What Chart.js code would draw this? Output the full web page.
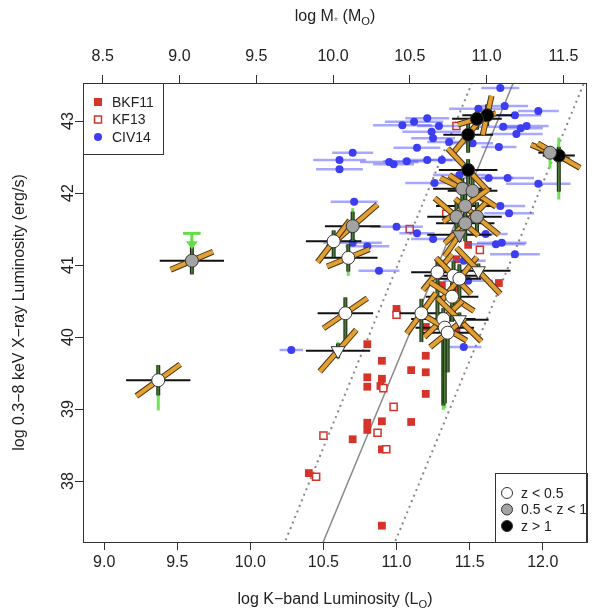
<!DOCTYPE html>
<html lang="en">
<head>
    <meta charset="UTF-8">
    <title>X-ray vs K-band luminosity</title>
    <style>
        html, body {
            margin: 0;
            padding: 0;
            background: #fff;
        }
        canvas {
            display: block;
        }
    </style>
    <script src="https://cdn.jsdelivr.net/npm/chart.js@4"></script>
</head>
<body>
    <canvas id="lumChart" width="596" height="616"></canvas>

    <script>
        // tick values
        const kTicks = [9.0, 9.5, 10.0, 10.5, 11.0, 11.5, 12.0];
        const massTicks = [8.5, 9.0, 9.5, 10.0, 10.5, 11.0, 11.5];
        const xrayTicks = [38, 39, 40, 41, 42, 43];

        // BKF11 (filled squares)
        const bkfK = [10.80, 10.90, 10.80, 10.80, 10.90, 10.89, 11.10, 11.20, 11.20, 11.20, 10.80, 10.80, 10.90,
                      11.10, 10.70, 10.90, 10.40, 10.90, 11.70, 11.00, 11.49, 11.41, 11.41, 11.31, 11.20, 11.41];
        const bkfX = [39.90, 39.67, 39.44, 39.31, 39.42, 39.32, 39.54, 39.74, 39.51, 39.21, 38.81, 38.71, 38.83,
                      38.82, 38.58, 38.44, 38.11, 37.38, 40.75, 40.39, 41.28, 41.08, 40.68, 40.72, 40.14, 40.08];

        // KF13 (open squares)
        const kfK = [10.91, 10.98, 10.87, 10.93, 10.50, 10.45, 11.00, 11.09, 11.57, 11.41, 11.34];
        const kfX = [39.29, 39.03, 38.67, 38.44, 38.63, 38.06, 40.31, 41.50, 41.21, 42.93, 41.71];

        // CIV14 (blue points with K-band errors)
        const civK = [11.71, 11.74, 11.56, 11.81, 11.97, 11.21, 11.12, 11.04, 11.29, 11.73, 11.85, 11.89, 11.82,
                      11.24, 11.25, 11.36, 11.52, 11.14, 11.70, 10.70, 10.61, 10.61, 10.95, 10.98, 11.07, 11.21,
                      11.31, 11.43, 11.63, 11.76, 11.26, 11.97, 10.71, 11.71, 11.77, 11.00, 11.14, 11.25, 11.61,
                      11.68, 11.72, 11.81, 11.46, 10.88, 11.49, 11.46, 10.70, 10.80, 10.28];
        const civX = [43.46, 43.21, 43.17, 43.08, 43.14, 43.04, 42.99, 42.94, 42.93, 42.92, 42.90, 42.93, 42.82,
                      42.85, 42.76, 42.71, 42.69, 42.63, 42.64, 42.56, 42.46, 42.33, 42.43, 42.40, 42.44, 42.46,
                      42.46, 42.25, 42.21, 42.21, 42.14, 42.13, 41.88, 41.82, 41.72, 41.53, 41.44, 41.36, 41.43,
                      41.29, 41.31, 41.15, 41.06, 40.92, 40.78, 39.86, 41.31, 41.26, 39.82];
        const civErr = [0.13, 0.16, 0.20, 0.18, 0.14, 0.15, 0.20, 0.20, 0.15, 0.18, 0.15, 0.15, 0.18,
                        0.20, 0.15, 0.15, 0.14, 0.16, 0.12, 0.14, 0.18, 0.16, 0.20, 0.14, 0.16, 0.17,
                        0.13, 0.18, 0.17, 0.18, 0.20, 0.22, 0.16, 0.17, 0.17, 0.18, 0.12, 0.15, 0.15,
                        0.20, 0.17, 0.17, 0.15, 0.14, 0.17, 0.12, 0.20, 0.15, 0.08];

        // main sample: z class 0 = z<0.5, 1 = 0.5<z<1, 2 = z>1 ; lim = upper limit (triangle)
        const srcK   = [9.37, 9.60, 10.70, 10.57, 10.67, 10.65, 10.60, 12.05, 12.11, 11.62, 11.55, 11.49, 11.49, 11.45, 11.52,
                        11.47, 11.41, 11.55, 11.47, 11.43, 11.28, 11.39, 11.43, 11.56, 11.38, 11.17, 11.32, 11.43, 11.33, 11.35];
        const srcX   = [39.40, 41.06, 41.54, 41.33, 41.10, 40.33, 39.81, 42.56, 42.52, 43.08, 43.03, 42.81, 42.32, 42.06, 42.03,
                        41.82, 41.67, 41.67, 41.58, 41.42, 40.90, 40.85, 40.81, 40.92, 40.56, 40.33, 40.25, 40.24, 40.13, 40.06];
        const srcZ   = [0, 1, 1, 0, 0, 0, 0, 1, 2, 2, 2, 2, 2, 1, 1,
                        1, 1, 1, 1, 1, 0, 0, 0, 0, 0, 0, 0, 0, 0, 0];
        const srcLim = [0, 0, 0, 0, 0, 0, 1, 0, 0, 0, 0, 0, 0, 0, 0,
                        0, 0, 0, 0, 1, 0, 0, 0, 1, 0, 0, 0, 1, 0, 0];
        const srcErrK = [0.22, 0.22, 0.19, 0.19, 0.20, 0.19, 0.22, 0.08, 0.11, 0.17, 0.17, 0.17, 0.20, 0.20, 0.17,
                         0.20, 0.20, 0.17, 0.20, 0.22, 0.18, 0.20, 0.15, 0.22, 0.18, 0.15, 0.22, 0.20, 0.20, 0.17];
        // dark green X-ray errors (down / up)
        const srcLo  = [0.21, 0.19, 0.20, 0.22, 0.19, 0.42, 0.10, 0.00, 0.50, 0.15, 0.15, 0.25, 0.20, 0.20, 0.20,
                        0.20, 0.30, 0.25, 0.25, 0.10, 0.80, 0.60, 0.30, 0.10, 0.35, 0.40, 1.20, 0.10, 1.05, 0.55];
        const srcHi  = [0.21, 0.19, 0.20, 0.15, 0.19, 0.22, 0.10, 0.00, 0.12, 0.15, 0.10, 0.15, 0.15, 0.15, 0.20,
                        0.20, 0.20, 0.20, 0.20, 0.10, 0.20, 0.20, 0.20, 0.10, 0.20, 0.20, 0.15, 0.10, 0.15, 0.15];
        // light green (wider) X-ray range (down / up)
        const srcLoWide = [0.42, 0, 0.20, 0, 0.25, 0, 0.12, 0.22, 0.61, 0, 0, 0, 0, 0, 0,
                           0, 0, 0, 0, 0, 0, 0, 0, 0, 0, 0, 1.26, 0, 1.12, 0];
        const srcHiWide = [0.21, 0, 0.25, 0, 0.17, 0, 0.12, 0.05, 0.25, 0, 0, 0, 0, 0, 0,
                           0, 0, 0, 0, 0, 0, 0, 0, 0, 0, 0, 0.15, 0, 0.15, 0];
        // orange bars: half extent in K and in X
        const barK = [0.15, 0.145, 0.17, 0.11, 0.145, 0.15, 0.125, 0.13, 0.145, 0.03, 0.13, 0.10, 0.14, 0.15, 0.16,
                      0.15, 0.15, 0.15, 0.14, 0.10, 0.10, 0.12, 0.12, 0.15, 0.15, 0.10, 0.13, 0.15, 0.15, 0.12];
        const barX = [0.22, 0.125, 0.30, 0.29, 0.12, 0.21, 0.29, -0.11, -0.17, 0.27, 0.08, 0.25, -0.30, -0.15, -0.22,
                      0.22, -0.26, -0.25, 0.28, 0.30, 0.25, -0.25, 0.30, -0.32, -0.20, 0.28, 0.25, -0.30, -0.18, 0.20];

        // the one source with an upper-limit arrow
        const arrowK = [9.60];
        const arrowTop = [41.44];
        const arrowTip = [41.22];

        // relations (endpoints)
        const fitK = [10.40, 11.86];
        const fitX = [36.67, 43.83];
        const lowK = [10.18, 11.56];
        const lowX = [36.87, 43.75];
        const highK = [10.93, 12.34];
        const highX = [36.86, 43.81];

        const legendA = ['BKF11', 'KF13', 'CIV14'];
        const legendB = ['z < 0.5', '0.5 < z < 1', 'z > 1'];
        const zFill = ['#ffffff', '#a3a3a3', '#000000'];

        const FONT = "'Liberation Sans', Arial, Helvetica, sans-serif";
        const INK = '#222';

        const pts = (ks, xs) => ks.map((k, i) => ({ x: k, y: xs[i] }));

        function srcPoints(z) {
            const out = [];
            srcK.forEach((k, i) => {
                if (srcZ[i] === z) out.push({ x: k, y: srcX[i], i: i });
            });
            return out;
        }

        function seg(ctx, x1, y1, x2, y2) {
            ctx.beginPath();
            ctx.moveTo(x1, y1);
            ctx.lineTo(x2, y2);
            ctx.stroke();
        }

        function clipTo(chart) {
            const a = chart.chartArea;
            chart.ctx.save();
            chart.ctx.beginPath();
            chart.ctx.rect(a.left, a.top, a.right - a.left, a.bottom - a.top);
            chart.ctx.clip();
        }

        function drawCivBars(chart) {
            const ctx = chart.ctx, xs = chart.scales.x, ys = chart.scales.y;
            clipTo(chart);
            ctx.strokeStyle = 'rgba(80, 80, 255, 0.5)';
            ctx.lineWidth = 2.5;
            civK.forEach((k, i) => {
                const e = civErr[i] ?? 0.15;
                const py = ys.getPixelForValue(civX[i]);
                seg(ctx, xs.getPixelForValue(k - e), py, xs.getPixelForValue(k + e), py);
            });
            ctx.restore();
        }

        function drawSourceBars(chart) {
            const ctx = chart.ctx, xs = chart.scales.x, ys = chart.scales.y;
            clipTo(chart);
            ctx.lineCap = 'butt';

            // K-band errors
            ctx.strokeStyle = '#111';
            ctx.lineWidth = 2;
            srcK.forEach((k, i) => {
                const py = ys.getPixelForValue(srcX[i]);
                seg(ctx, xs.getPixelForValue(k - srcErrK[i]), py, xs.getPixelForValue(k + srcErrK[i]), py);
            });

            // wide range, light green
            ctx.strokeStyle = '#72e055';
            ctx.lineWidth = 3;
            srcK.forEach((k, i) => {
                if (!srcLoWide[i] && !srcHiWide[i]) return;
                const px = xs.getPixelForValue(k);
                seg(ctx, px, ys.getPixelForValue(srcX[i] - srcLoWide[i]), px, ys.getPixelForValue(srcX[i] + srcHiWide[i]));
            });

            // X-ray errors, dark green with dark edge
            srcK.forEach((k, i) => {
                if (!srcLo[i] && !srcHi[i]) return;
                const px = xs.getPixelForValue(k);
                const y1 = ys.getPixelForValue(srcX[i] - srcLo[i]);
                const y2 = ys.getPixelForValue(srcX[i] + srcHi[i]);
                ctx.strokeStyle = '#1d3014';
                ctx.lineWidth = 4;
                seg(ctx, px, y1, px, y2);
                ctx.strokeStyle = '#4b7a3a';
                ctx.lineWidth = 1.8;
                seg(ctx, px, y1, px, y2);
            });

            // orange bars
            srcK.forEach((k, i) => {
                const x1 = xs.getPixelForValue(k - barK[i]), y1 = ys.getPixelForValue(srcX[i] - barX[i]);
                const x2 = xs.getPixelForValue(k + barK[i]), y2 = ys.getPixelForValue(srcX[i] + barX[i]);
                ctx.strokeStyle = '#4a3210';
                ctx.lineWidth = 6;
                seg(ctx, x1, y1, x2, y2);
                ctx.strokeStyle = '#e2a033';
                ctx.lineWidth = 4;
                seg(ctx, x1, y1, x2, y2);
            });

            // upper limit arrow
            ctx.strokeStyle = '#62dc46';
            ctx.fillStyle = '#62dc46';
            ctx.lineWidth = 3;
            arrowK.forEach((k, i) => {
                const px = xs.getPixelForValue(k);
                const top = ys.getPixelForValue(arrowTop[i]);
                const tip = ys.getPixelForValue(arrowTip[i]);
                seg(ctx, xs.getPixelForValue(k - 0.06), top, xs.getPixelForValue(k + 0.06), top);
                seg(ctx, px, top, px, tip - 6);
                ctx.beginPath();
                ctx.moveTo(px - 6, tip - 8);
                ctx.lineTo(px + 6, tip - 8);
                ctx.lineTo(px, tip);
                ctx.closePath();
                ctx.fill();
            });
            ctx.restore();
        }

        function drawParts(ctx, parts, cx, cy, size) {
            let w = 0;
            parts.forEach(p => {
                ctx.font = (p.small ? size * 0.7 : size) + 'px ' + FONT;
                w += ctx.measureText(p.t).width;
            });
            let x = cx - w / 2;
            ctx.textAlign = 'left';
            ctx.textBaseline = 'middle';
            parts.forEach(p => {
                ctx.font = (p.small ? size * 0.7 : size) + 'px ' + FONT;
                ctx.fillStyle = p.color || INK;
                ctx.fillText(p.t, x, cy + (p.small ? size * 0.28 : 0));
                x += ctx.measureText(p.t).width;
            });
        }

        function legendBox(ctx, left, top, right, bottom) {
            ctx.fillStyle = '#fff';
            ctx.fillRect(left, top, right - left, bottom - top);
            ctx.strokeStyle = '#333';
            ctx.lineWidth = 1;
            ctx.strokeRect(left + 0.5, top + 0.5, right - left, bottom - top);
        }

        const framePlugin = {
            id: 'frame',
            beforeDatasetDraw(chart, args) {
                const ds = chart.data.datasets[args.index];
                if (ds.label === 'CIV14') drawCivBars(chart);
                if (ds.label === 'z > 1') drawSourceBars(chart);
            },
            afterDraw(chart) {
                const ctx = chart.ctx, a = chart.chartArea;
                ctx.save();

                // legend, top left
                legendBox(ctx, a.left, a.top, a.left + 80, a.top + 71);
                ctx.font = '14px ' + FONT;
                ctx.textAlign = 'left';
                ctx.textBaseline = 'middle';
                legendA.forEach((t, i) => {
                    const y = a.top + 19 + i * 17.5, x = a.left + 15;
                    if (i === 0) {
                        ctx.fillStyle = '#d4342a';
                        ctx.fillRect(x - 4, y - 4, 8, 8);
                    } else if (i === 1) {
                        ctx.fillStyle = '#fff';
                        ctx.strokeStyle = '#d4342a';
                        ctx.lineWidth = 1.5;
                        ctx.fillRect(x - 3.5, y - 3.5, 7, 7);
                        ctx.strokeRect(x - 3.5, y - 3.5, 7, 7);
                    } else {
                        ctx.fillStyle = '#3d3df2';
                        ctx.beginPath();
                        ctx.arc(x, y, 4, 0, Math.PI * 2);
                        ctx.fill();
                    }
                    ctx.fillStyle = INK;
                    ctx.fillText(t, a.left + 29, y + 1);
                });

                // legend, bottom right
                legendBox(ctx, 495, 473, a.right, a.bottom);
                legendB.forEach((t, i) => {
                    const y = 493 + i * 16.5;
                    ctx.fillStyle = zFill[i];
                    ctx.strokeStyle = '#333';
                    ctx.lineWidth = 1;
                    ctx.beginPath();
                    ctx.arc(507, y, 5.5, 0, Math.PI * 2);
                    ctx.fill();
                    ctx.stroke();
                    ctx.fillStyle = INK;
                    ctx.font = '14px ' + FONT;
                    ctx.textAlign = 'left';
                    ctx.textBaseline = 'middle';
                    ctx.fillText(t, 521, y + 1);
                });

                // frame
                ctx.strokeStyle = '#333';
                ctx.lineWidth = 1;
                ctx.strokeRect(a.left + 0.5, a.top + 0.5, a.right - a.left - 1, a.bottom - a.top);

                // axis titles
                const cx = (a.left + a.right) / 2;
                drawParts(ctx, [{ t: 'log K\u2212band Luminosity (L' }, { t: 'O', small: true }, { t: ')' }], cx, 600, 16);
                drawParts(ctx, [{ t: 'log M' }, { t: '*', small: true, color: '#888' }, { t: ' (M' }, { t: 'O', small: true }, { t: ')' }], cx, 17, 16);
                ctx.translate(20, (a.top + a.bottom) / 2);
                ctx.rotate(-Math.PI / 2);
                drawParts(ctx, [{ t: 'log 0.3\u22128 keV X\u2212ray Luminosity (erg/s)' }], 0, 0, 16);
                ctx.restore();
            }
        };

        const tickFont = { family: FONT, size: 16 };
        const tickGrid = { drawOnChartArea: false, tickLength: 8, color: '#333', tickWidth: 1 };

        // fixed axis sizes, no extra label padding so the plot box lands where it should
        function fixSize(prop, value) {
            return s => {
                s[prop] = value;
                s.paddingLeft = 0;
                s.paddingRight = 0;
                s.paddingTop = 0;
                s.paddingBottom = 0;
            };
        }

        const srcStyle = z => ({
            backgroundColor: zFill[z],
            borderColor: '#333',
            borderWidth: 1,
            pointRadius: ctx => (srcLim[ctx.raw.i] ? 8 : 6.5),
            pointStyle: ctx => (srcLim[ctx.raw.i] ? 'triangle' : 'circle'),
            rotation: ctx => (srcLim[ctx.raw.i] ? 180 : 0)
        });

        new Chart(document.getElementById('lumChart'), {
            type: 'scatter',
            data: {
                datasets: [
                    Object.assign({ label: 'z < 0.5', data: srcPoints(0), order: 1 }, srcStyle(0)),
                    Object.assign({ label: '0.5 < z < 1', data: srcPoints(1), order: 2 }, srcStyle(1)),
                    Object.assign({ label: 'z > 1', data: srcPoints(2), order: 3 }, srcStyle(2)),
                    {
                        label: 'CIV14', data: pts(civK, civX), order: 7,
                        backgroundColor: '#3d3df2', borderWidth: 0, pointRadius: 4
                    },
                    {
                        label: 'KF13', data: pts(kfK, kfX), order: 8, pointStyle: 'rect',
                        backgroundColor: '#fff', borderColor: '#d4342a', borderWidth: 1.5, pointRadius: 5
                    },
                    {
                        label: 'BKF11', data: pts(bkfK, bkfX), order: 9, pointStyle: 'rect',
                        backgroundColor: '#d4342a', borderWidth: 0, pointRadius: 5.5
                    },
                    {
                        type: 'line', label: 'fit', data: pts(fitK, fitX), order: 10,
                        borderColor: '#8a8a8a', borderWidth: 1.5, pointRadius: 0
                    },
                    {
                        type: 'line', label: 'low', data: pts(lowK, lowX), order: 11,
                        borderColor: '#888', borderWidth: 2, borderDash: [2, 4], pointRadius: 0
                    },
                    {
                        type: 'line', label: 'high', data: pts(highK, highX), order: 12,
                        borderColor: '#888', borderWidth: 2, borderDash: [2, 4], pointRadius: 0
                    }
                ]
            },
            options: {
                responsive: false,
                animation: false,
                layout: { padding: { left: 0, right: -7, top: 0, bottom: 0 } },
                plugins: {
                    legend: { display: false },
                    tooltip: { enabled: false }
                },
                scales: {
                    x: {
                        type: 'linear', position: 'bottom', min: 8.8552, max: 12.303,
                        afterBuildTicks: s => { s.ticks = kTicks.map(v => ({ value: v })); },
                        ticks: { font: tickFont, color: INK, padding: 3, maxRotation: 0, minRotation: 0,
                                 callback: v => v.toFixed(1) },
                        grid: tickGrid,
                        border: { display: false },
                        afterFit: fixSize('height', 74)
                    },
                    x2: {
                        type: 'linear', position: 'top', min: 8.3718, max: 11.6538,
                        afterBuildTicks: s => { s.ticks = massTicks.map(v => ({ value: v })); },
                        ticks: { font: tickFont, color: INK, padding: 9, maxRotation: 0, minRotation: 0,
                                 callback: v => v.toFixed(1) },
                        grid: tickGrid,
                        border: { display: false },
                        afterFit: fixSize('height', 83)
                    },
                    y: {
                        type: 'linear', position: 'left', min: 37.153, max: 43.528,
                        afterBuildTicks: s => { s.ticks = xrayTicks.map(v => ({ value: v })); },
                        ticks: { font: tickFont, color: INK, padding: -2, minRotation: 90, maxRotation: 90,
                                 crossAlign: 'center', callback: v => String(v) },
                        grid: tickGrid,
                        border: { display: false },
                        afterFit: fixSize('width', 83)
                    }
                }
            },
            plugins: [framePlugin]
        });
    </script>
</body>
</html>
